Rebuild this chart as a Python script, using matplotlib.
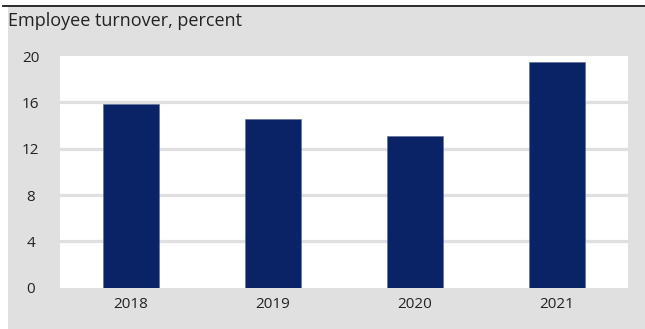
import matplotlib.pyplot as plt
from matplotlib.patches import Rectangle
from matplotlib.lines import Line2D

plt.rcParams['font.family'] = ['Open Sans', 'DejaVu Sans']

# data
years = ['2018', '2019', '2020', '2021']
turnover = [15.85, 14.6, 13.1, 19.5]
y_ticks = [0, 4, 8, 12, 16, 20]

W, H = 645, 329
fig = plt.figure(figsize=(W / 100, H / 100), dpi=100)
fig.patch.set_facecolor('white')

# grey panel and the rule along the top
fig.patches.append(Rectangle((8 / W, 0), 1 - 8 / W, 1 - 7 / H,
                             transform=fig.transFigure, facecolor='#e0e0e0',
                             edgecolor='none', zorder=-5))
fig.lines.append(Line2D([3 / W, 1], [1 - 5.5 / H, 1 - 5.5 / H],
                        transform=fig.transFigure, color='#1a1a1a', lw=1.3))

fig.text(8 / W, 1 - 21 / H, 'Employee turnover, percent', fontsize=13,
         color='#222222', va='center', ha='left')

ax = fig.add_axes([60 / W, (H - 287.7) / H, 568 / W, (287.7 - 56) / H])
ax.set_facecolor('white')

x = range(len(years))
ax.bar(x, turnover, width=0.4, color='#0a2266', edgecolor='#5a6a99',
       linewidth=0.4, zorder=3)

ax.set_xlim(-0.5, 3.5)
ax.set_ylim(0, 20)
ax.set_yticks(y_ticks)
ax.set_xticks(list(x))
ax.set_xticklabels(years)

for t in y_ticks[1:-1]:
    ax.axhline(t, color='#e0e0e0', lw=2.3, zorder=1)

for s in ax.spines.values():
    s.set_visible(False)
ax.tick_params(axis='both', length=0, labelsize=11, colors='#222222')
ax.tick_params(axis='y', pad=21)
ax.tick_params(axis='x', pad=7)
for lab in ax.get_yticklabels():
    lab.set_horizontalalignment('center')

fig.savefig('out.png', dpi=100, facecolor=fig.get_facecolor())
